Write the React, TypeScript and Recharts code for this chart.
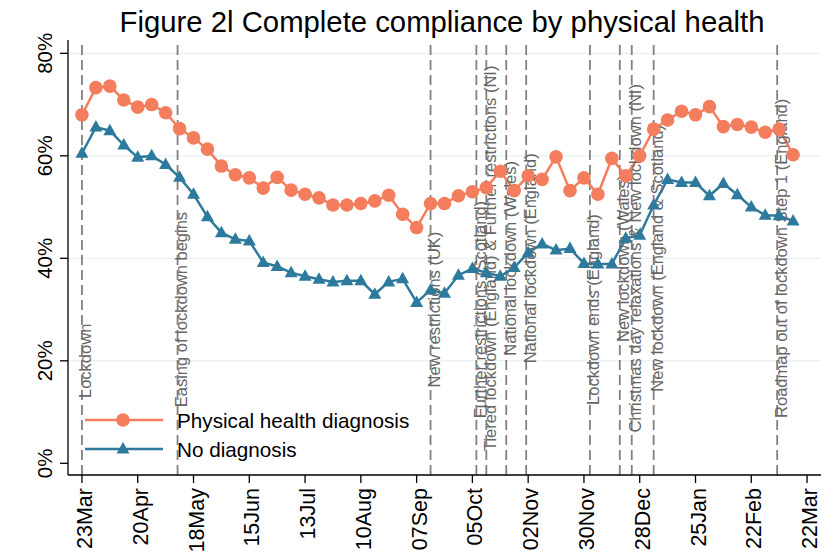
import React from 'react';
import {
  LineChart,
  Line,
  XAxis,
  YAxis,
  CartesianGrid,
  ReferenceLine,
  ReferenceDot,
  Legend,
} from 'recharts';

// Days since 23 Mar 2020 (weekly survey points)
const weekDays = [
  0, 7, 14, 21, 28, 35, 42, 49, 56, 63, 70, 77, 84, 91, 98, 105, 112, 119, 126, 133,
  140, 147, 154, 161, 168, 175, 182, 189, 196, 203, 210, 217, 224, 231, 238, 245, 252,
  259, 266, 273, 280, 287, 294, 301, 308, 315, 322, 329, 336, 343, 350, 357,
];

const physicalHealth = [
  68.0, 73.3, 73.6, 70.9, 69.5, 70.0, 68.4, 65.3, 63.5, 61.3, 58.0, 56.3, 55.7, 53.7,
  55.8, 53.3, 52.5, 51.8, 50.4, 50.4, 50.7, 51.2, 52.3, 48.6, 46.0, 50.7, 50.7, 52.2,
  53.0, 53.8, 57.0, 53.2, 56.1, 55.4, 59.8, 53.2, 55.7, 52.5, 59.5, 56.1, 60.0, 65.2,
  67.0, 68.7, 68.0, 69.6, 65.7, 66.1, 65.6, 64.6, 65.2, 60.2,
];

const noDiagnosis = [
  60.5, 65.6, 64.9, 62.1, 59.7, 60.0, 58.3, 55.8, 52.5, 48.1, 45.0, 43.7, 43.4, 39.2,
  38.4, 37.2, 36.5, 35.9, 35.4, 35.6, 35.6, 33.0, 35.4, 36.0, 31.4, 33.8, 33.2, 36.7,
  38.0, 37.2, 36.5, 38.2, 41.1, 42.8, 41.6, 41.9, 39.0, 38.9, 38.9, 43.9, 44.5, 50.4,
  55.4, 54.8, 54.8, 52.2, 54.6, 52.4, 50.0, 48.4, 48.3, 47.3,
];

const seriesNames = ['Physical health diagnosis', 'No diagnosis'];

const tickDays = [0, 28, 56, 84, 112, 140, 168, 196, 224, 252, 280, 308, 336, 364];
const tickLabels = [
  '23Mar', '20Apr', '18May', '15Jun', '13Jul', '10Aug', '07Sep', '05Oct', '02Nov',
  '30Nov', '28Dec', '25Jan', '22Feb', '22Mar',
];

const yTicks = [0, 20, 40, 60, 80];

const eventDays = [0, 48, 175, 198, 203, 213, 223, 255, 270, 276, 287, 349];
const eventLabels = [
  'Lockdown',
  'Easing of lockdown begins',
  'New restrictions (UK)',
  'Further restrictions (Scotland)',
  'Tiered lockdown (England) & Further restrictions (NI)',
  'National lockdown (Wales)',
  'National lockdown (England)',
  'Lockdown ends (England)',
  'New lockdown (Wales)',
  'Christmas day relaxations & New lockdown (NI)',
  'New lockdown (England & Scotland)',
  'Roadmap out of lockdown Step 1 (England)',
];
const eventLabelLevels = [20, 30, 30, 30, 40, 40, 40, 30, 40, 40, 40, 40];

const ORANGE = '#f47d5e';
const BLUE = '#2e7a9c';
const FONT = '"Liberation Sans", Arial, Helvetica, sans-serif';

const data = weekDays.map((d, i) => ({
  day: d,
  phys: physicalHealth[i],
  none: noDiagnosis[i],
}));

const XTick = (props: any) => {
  const { x, y, payload } = props;
  const idx = tickDays.indexOf(payload.value);
  const label = idx >= 0 ? tickLabels[idx] : '';
  const tx = x + 10;
  const ty = y + 3;
  return (
    <text
      x={tx}
      y={ty}
      transform={`rotate(-90 ${tx} ${ty})`}
      textAnchor="end"
      fontSize={21.5}
      fontFamily={FONT}
      fill="#000"
    >
      {label}
    </text>
  );
};

const YTick = (props: any) => {
  const { x, y, payload } = props;
  const tx = x - 5.5;
  return (
    <text
      x={tx}
      y={y}
      transform={`rotate(-90 ${tx} ${y})`}
      textAnchor="middle"
      fontSize={20.5}
      fontFamily={FONT}
      fill="#000"
    >
      {`${payload.value}%`}
    </text>
  );
};

const makeEventShape = (text: string) => (props: any) => {
  const { cx, cy } = props;
  const tx = cx + 3.5;
  return (
    <text
      x={tx}
      y={cy}
      transform={`rotate(-90 ${tx} ${cy})`}
      textAnchor="middle"
      dominantBaseline="central"
      fontSize={16.5}
      fontFamily={FONT}
      fill="#666"
    >
      {text}
    </text>
  );
};

const Triangle = (props: any) => {
  const { cx, cy, index } = props;
  if (cx == null || cy == null) return <g key={`t${index}`} />;
  return (
    <path
      key={`t${index}`}
      d={`M${cx},${cy - 7} L${cx + 6.5},${cy + 4.5} L${cx - 6.5},${cy + 4.5} Z`}
      fill={BLUE}
    />
  );
};

const LegendContent = (props: any) => {
  const items = [...(props.payload || [])].sort(
    (a: any, b: any) => seriesNames.indexOf(a.value) - seriesNames.indexOf(b.value)
  );
  return (
    <svg width={360} height={66} style={{ display: 'block' }}>
      {items.map((it: any, i: number) => {
        const yy = 20 + i * 29;
        const color = it.color;
        const isCircle = it.value === seriesNames[0];
        return (
          <g key={i}>
            <line x1={5} x2={83} y1={yy} y2={yy} stroke={color} strokeWidth={2.5} />
            {isCircle ? (
              <circle cx={43} cy={yy} r={6.8} fill={color} />
            ) : (
              <path d={`M43,${yy - 7} L49.5,${yy + 4.5} L36.5,${yy + 4.5} Z`} fill={color} />
            )}
            <text x={97} y={yy + 7.5} fontSize={20.7} fontFamily={FONT} fill="#000">
              {it.value}
            </text>
          </g>
        );
      })}
    </svg>
  );
};

export default function App() {
  return (
    <div
      style={{
        position: 'absolute',
        left: 0,
        top: 0,
        width: 821,
        height: 557,
        background: '#fff',
        overflow: 'hidden',
      }}
    >
      <div
        style={{
          position: 'absolute',
          left: 42,
          top: 6.5,
          width: 800,
          textAlign: 'center',
          fontFamily: FONT,
          fontSize: 29.3,
          lineHeight: '29px',
          color: '#000',
          whiteSpace: 'nowrap',
        }}
      >
        Figure 2l Complete compliance by physical health
      </div>
      <LineChart
        width={821}
        height={557}
        data={data}
        margin={{ top: 40, right: 0, bottom: 0, left: 0 }}
      >
        <CartesianGrid
          horizontal
          vertical={false}
          horizontalValues={[20, 40, 60, 80]}
          stroke="#e3edef"
          strokeWidth={1}
        />
        <XAxis
          type="number"
          dataKey="day"
          domain={[-7, 371]}
          ticks={tickDays}
          interval={0}
          allowDataOverflow
          height={82}
          tickSize={8}
          axisLine={{ stroke: '#000', strokeWidth: 1.3 }}
          tickLine={{ stroke: '#000', strokeWidth: 1.3 }}
          tick={<XTick />}
        />
        <YAxis
          type="number"
          domain={[-2.28, 82.6]}
          ticks={yTicks}
          interval={0}
          allowDataOverflow
          width={68}
          tickSize={8}
          axisLine={{ stroke: '#000', strokeWidth: 1.3 }}
          tickLine={{ stroke: '#000', strokeWidth: 1.3 }}
          tick={<YTick />}
        />
        {eventDays.map((d, i) => (
          <ReferenceLine
            key={`rl${i}`}
            x={d}
            stroke="#808080"
            strokeWidth={1.8}
            strokeDasharray="10 5"
            ifOverflow="visible"
          />
        ))}
        <Legend
          layout="horizontal"
          verticalAlign="middle"
          align="center"
          itemSorter={null as any}
          wrapperStyle={{ left: 80, top: 400, width: 360, height: 66 }}
          content={<LegendContent />}
        />
        <Line
          type="linear"
          dataKey="phys"
          name={seriesNames[0]}
          stroke={ORANGE}
          strokeWidth={2.5}
          dot={{ r: 6.8, fill: ORANGE, stroke: 'none' }}
          activeDot={false}
          isAnimationActive={false}
        />
        <Line
          type="linear"
          dataKey="none"
          name={seriesNames[1]}
          stroke={BLUE}
          strokeWidth={2.5}
          dot={<Triangle />}
          activeDot={false}
          isAnimationActive={false}
        />
        {eventDays.map((d, i) => (
          <ReferenceDot
            key={`rd${i}`}
            x={d}
            y={eventLabelLevels[i]}
            r={0}
            ifOverflow="visible"
            shape={makeEventShape(eventLabels[i])}
          />
        ))}
      </LineChart>
    </div>
  );
}
